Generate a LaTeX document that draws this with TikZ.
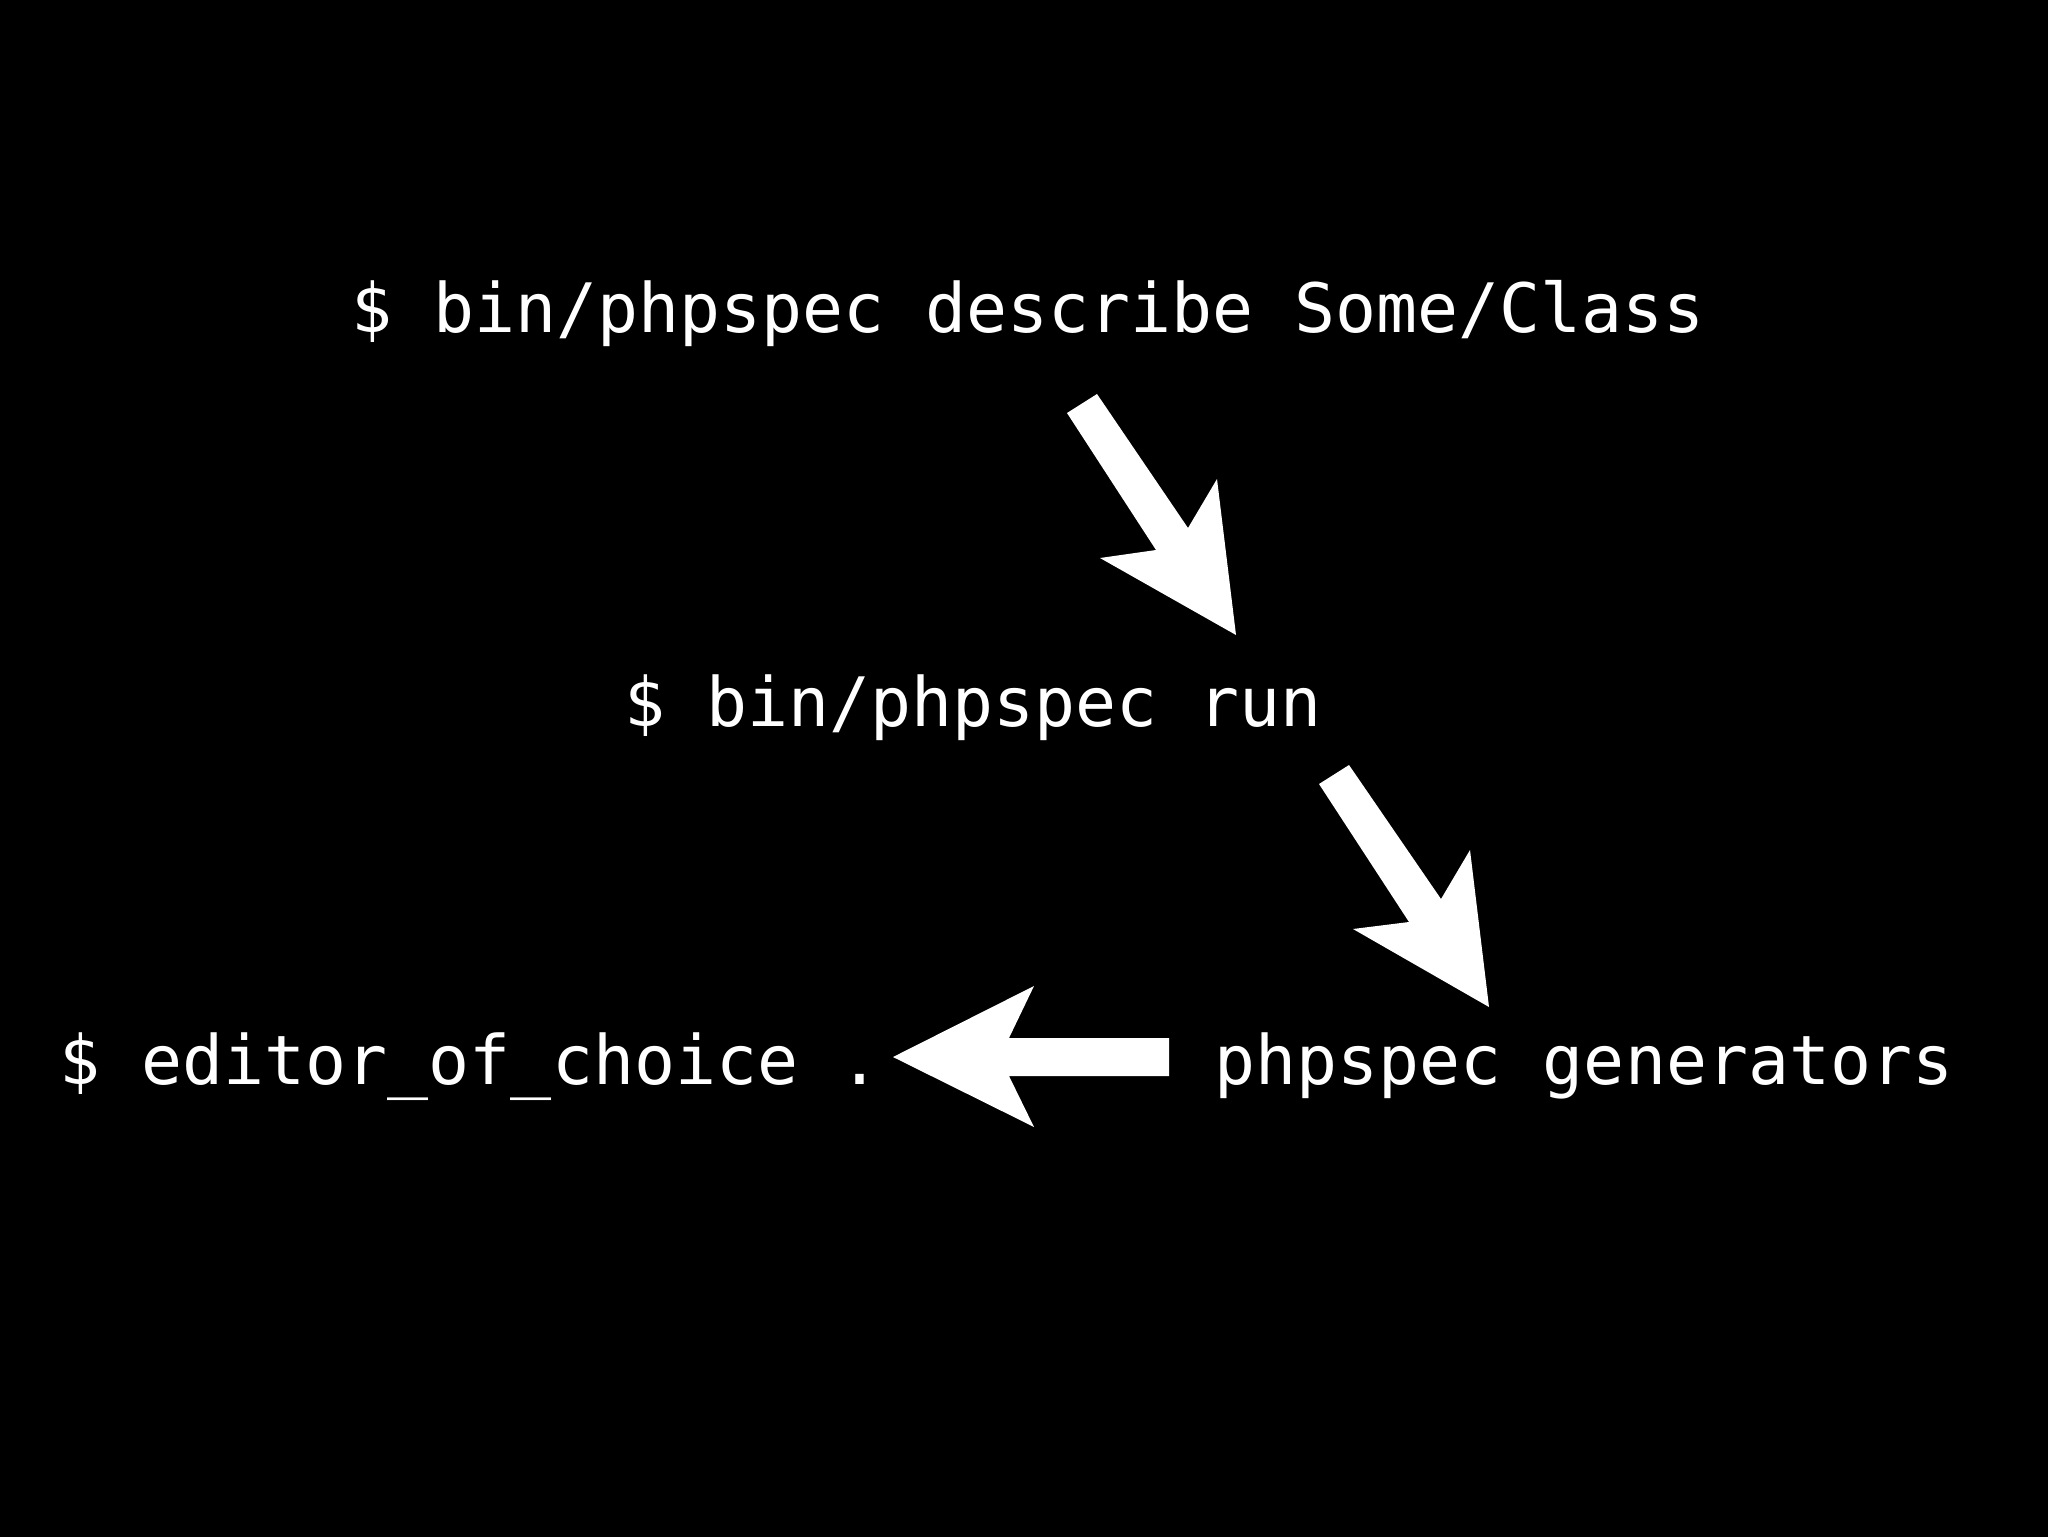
\documentclass[tikz,border=0pt]{standalone}
\usepackage{fontspec}
\setmonofont{DejaVu Sans Mono}
\begin{document}
\begin{tikzpicture}[x=0.5bp,y=-0.5bp,
  cmd/.style={text=white,inner sep=0pt,anchor=base,font=\fontsize{34.2}{40}\selectfont\ttfamily},
  blockarrow/.style={fill=white,draw=none}]
\useasboundingbox (0,0) rectangle (2048,1536);
\fill[black] (-4,-4) rectangle (2052,1540);
\node[cmd] (describe) at (1028,332) {\$ bin/phpspec describe Some/Class};
\node[cmd] (run) at (973,726) {\$ bin/phpspec run};
\node[cmd] (editor) at (470,1084) {\$ editor\_of\_choice .};
\node[cmd] (gen) at (1584,1084) {phpspec generators};
% arrow describe -> run
\fill[blockarrow] (1067,413) -- (1097,394) -- (1188,528) -- (1217,479) -- (1236,635)
  -- (1100,558) -- (1156,550) -- cycle;
% arrow run -> generators
\fill[blockarrow] (1319,784) -- (1349,765) -- (1441,899) -- (1470,850) -- (1489,1007)
  -- (1353,929) -- (1409,922) -- cycle;
% arrow generators -> editor
\fill[blockarrow] (1169,1038) -- (1009,1038) -- (1034,986) -- (893,1057) -- (1034,1127)
  -- (1009,1076) -- (1169,1076) -- cycle;
\end{tikzpicture}
\end{document}
